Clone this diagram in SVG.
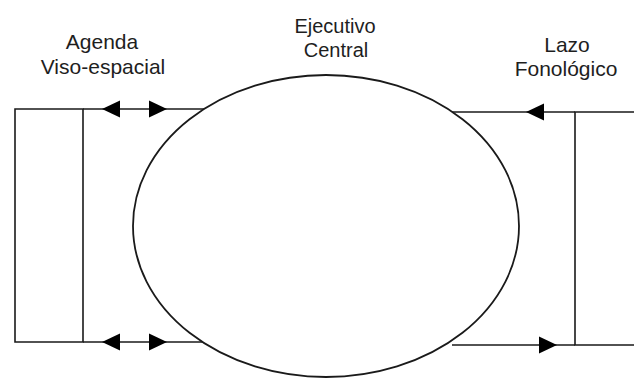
<svg xmlns="http://www.w3.org/2000/svg" width="634" height="379" viewBox="0 0 634 379">
  <style>
    .ln { fill: none; stroke: #1a1a1a; stroke-width: 1.6; }
    .el { fill: #ffffff; stroke: #1a1a1a; stroke-width: 1.8; }
    .ah { fill: #000000; stroke: none; }
    .lbl { font-family: "Liberation Sans", Arial, sans-serif; font-size: 21px; fill: #1e1e1e; text-anchor: middle; }
    .lblc { font-size: 20px; }
  </style>
  <defs>
    <path id="arrL" class="ah" d="M0,0 L18,-8.5 L18,8.5 Z"/>
    <path id="arrR" class="ah" d="M0,0 L-18,-8.5 L-18,8.5 Z"/>
  </defs>
  <rect width="634" height="379" fill="#ffffff"/>

  <g id="connectors">
    <line class="ln" x1="83" y1="109" x2="205" y2="109"/>
    <line class="ln" x1="83" y1="342" x2="208" y2="342"/>
    <line class="ln" x1="450" y1="112" x2="575" y2="112"/>
    <line class="ln" x1="452" y1="345" x2="575" y2="345"/>
    <use href="#arrL" x="102" y="109"/>
    <use href="#arrR" x="167" y="109"/>
    <use href="#arrL" x="102" y="342"/>
    <use href="#arrR" x="167" y="342"/>
    <use href="#arrL" x="526" y="112"/>
    <use href="#arrR" x="557" y="345"/>
  </g>

  <g id="agenda-visoespacial">
    <path class="ln" d="M83,109 H15 V342 H83 Z"/>
    <text class="lbl" x="102" y="49">Agenda</text>
    <text class="lbl" x="103" y="74">Viso-espacial</text>
  </g>

  <g id="ejecutivo-central">
    <ellipse class="el" cx="326" cy="226" rx="193" ry="151"/>
    <text class="lbl lblc" x="335" y="33">Ejecutivo</text>
    <text class="lbl lblc" x="336" y="57">Central</text>
  </g>

  <g id="lazo-fonologico">
    <path class="ln" d="M634,112 H575 V345 H634"/>
    <text class="lbl" x="567" y="52">Lazo</text>
    <text class="lbl" x="566" y="76">Fonológico</text>
  </g>
</svg>
